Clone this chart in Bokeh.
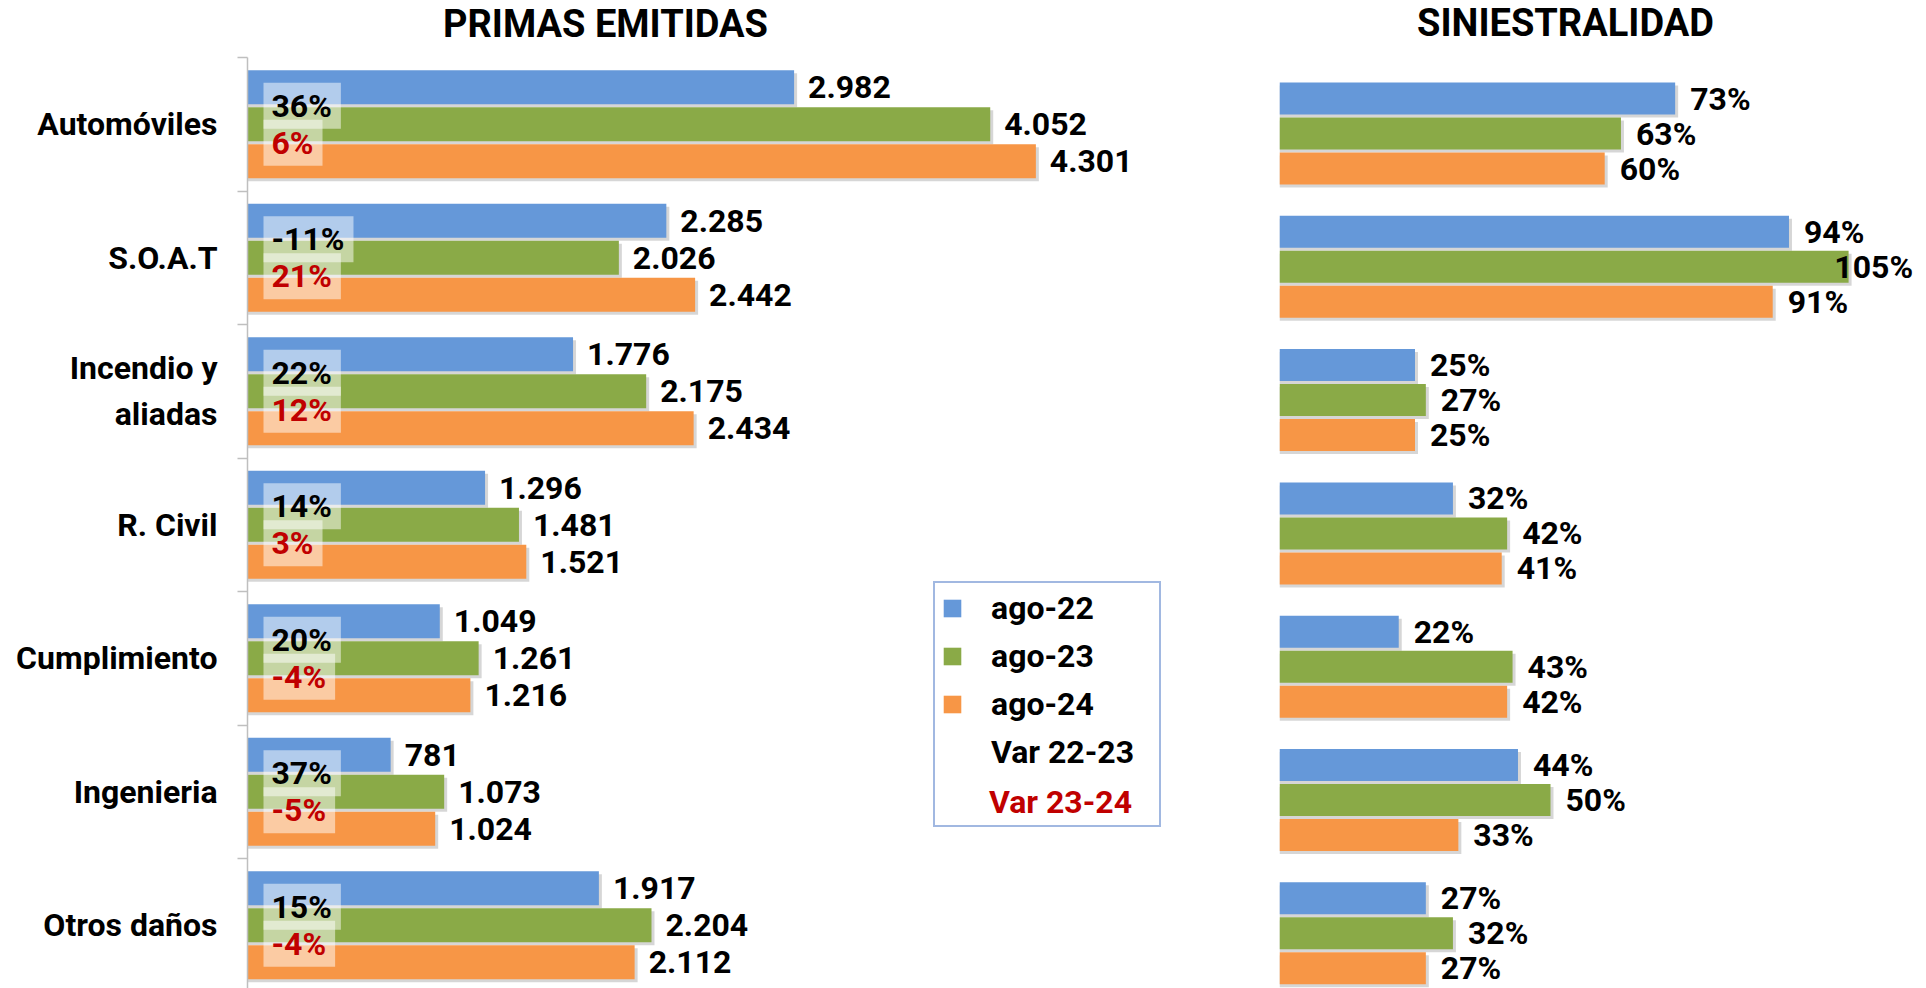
import numpy as np
from bokeh.plotting import figure
from bokeh.models import Range1d, FixedTicker, Legend, LegendItem
from bokeh.layouts import row
from bokeh.core.properties import value
from bokeh.embed import file_html
from bokeh.resources import INLINE

# ---------------- data ----------------
categories = ["Automóviles", "S.O.A.T", "Incendio y\naliadas", "R. Civil",
              "Cumplimiento", "Ingenieria", "Otros daños"]
series_names = ["ago-22", "ago-23", "ago-24"]
primas_ago22 = [2982, 2285, 1776, 1296, 1049, 781, 1917]
primas_ago23 = [4052, 2026, 2175, 1481, 1261, 1073, 2204]
primas_ago24 = [4301, 2442, 2434, 1521, 1216, 1024, 2112]
var_22_23 = ["36%", "-11%", "22%", "14%", "20%", "37%", "15%"]
var_23_24 = ["6%", "21%", "12%", "3%", "-4%", "-5%", "-4%"]
sin_ago22 = [73, 94, 25, 32, 22, 44, 27]
sin_ago23 = [63, 105, 27, 42, 43, 50, 32]
sin_ago24 = [60, 91, 25, 41, 42, 33, 27]
title_left = "PRIMAS EMITIDAS"
title_right = "SINIESTRALIDAD"
legend_var1 = "Var 22-23"
legend_var2 = "Var 23-24"

# ---------------- style ----------------
FONT = "Roboto"
BLUE, GREEN, ORANGE = "#6598D9", "#8AAA47", "#F79646"
RED = "#C00000"
AXIS_GRAY = "#BFBFBF"
COLORS = [BLUE, GREEN, ORANGE]
TXT = dict(text_font=value(FONT), text_font_style="bold", text_font_size="32px")

FIG_H = 988
PLOT_TOP_PAGE = 57            # where the category band starts
n = len(categories)
yc = np.arange(n)


def fmt_num(v):
    return f"{v:,}".replace(",", ".")


# ---------------- left chart ----------------
L_W, L_BORDER = 1260, 247
L_FRAME_W = L_W - L_BORDER
L_PX_X = 0.1833               # px per unit of primas
L_PX_Y = 133.5                # px per category
L_SLOT = 37 / L_PX_Y
L_BAR = 34 / L_PX_Y
l_top = -0.5 - PLOT_TOP_PAGE / L_PX_Y
l_bottom = l_top + FIG_H / L_PX_Y
l_xend = L_FRAME_W / L_PX_X

p1 = figure(width=L_W, height=FIG_H, x_range=Range1d(0, l_xend),
            y_range=Range1d(l_bottom, l_top), x_axis_location=None,
            y_axis_location="left", toolbar_location=None, output_backend="svg",
            min_border_left=L_BORDER, min_border_right=0, min_border_top=0,
            min_border_bottom=0, outline_line_color=None)
p1.xgrid.visible = False
p1.ygrid.visible = False

ax = p1.yaxis[0]
ax.bounds = (-0.5, n + 0.5)
ax.ticker = FixedTicker(ticks=[float(v) for v in yc],
                        minor_ticks=[float(v) - 0.5 for v in range(n + 1)])
ax.major_label_overrides = {float(i): c for i, c in enumerate(categories)}
ax.major_tick_line_color = None
ax.major_tick_out = 0
ax.major_tick_in = 0
ax.minor_tick_line_color = AXIS_GRAY
ax.minor_tick_line_width = 1.5
ax.minor_tick_out = 10
ax.minor_tick_in = 0
ax.axis_line_color = AXIS_GRAY
ax.axis_line_width = 1.5
ax.major_label_standoff = 20
ax.major_label_text_font = FONT
ax.major_label_text_font_style = "bold"
ax.major_label_text_font_size = "32px"
ax.major_label_text_color = "black"

SH_PX = 3
primas = [primas_ago22, primas_ago23, primas_ago24]
for k, vals in enumerate(primas):
    yy = yc + (k - 1) * L_SLOT
    p1.hbar(y=yy + SH_PX / L_PX_Y, left=0, right=np.array(vals) + SH_PX / L_PX_X,
            height=L_BAR, fill_color="black", fill_alpha=0.16, line_color=None)

bar_r = []
for k, vals in enumerate(primas):
    yy = yc + (k - 1) * L_SLOT
    r = p1.hbar(y=yy, left=0, right=vals, height=L_BAR, fill_color=COLORS[k],
                line_color=None)
    bar_r.append(r)
    p1.text(x=vals, y=yy, text=[fmt_num(v) for v in vals], x_offset=14,
            text_baseline="middle", text_align="left", text_color="black", **TXT)

PAD = dict(left=8, right=9, top=4, bottom=4)
p1.text(x=np.zeros(n), y=yc - L_SLOT / 2, text=var_22_23, x_offset=16,
        text_baseline="middle", text_align="left", text_color="black",
        background_fill_color="white", background_fill_alpha=0.5, padding=PAD, **TXT)
p1.text(x=np.zeros(n), y=yc + L_SLOT / 2, text=var_23_24, x_offset=16,
        text_baseline="middle", text_align="left", text_color=RED,
        background_fill_color="white", background_fill_alpha=0.5, padding=PAD, **TXT)

# chart title (inside the frame, above the category band)
p1.text(x=[(605 - L_BORDER) / L_PX_X], y=[l_top + 23.5 / L_PX_Y], text=[title_left],
        text_align="center", text_baseline="middle", text_color="black",
        text_font=value(FONT), text_font_style="bold", text_font_size="38px")

dummy = p1.hbar(y=[], right=[], height=0.1, fill_alpha=0, line_alpha=0)

LEG_PAD = 6
LEG_KW = dict(glyph_width=22, glyph_height=22, label_standoff=28, label_height=38,
              label_width=162, spacing=10, margin=0,
              label_text_font=FONT, label_text_font_style="bold",
              label_text_font_size="32px")
LEG_X, LEG_Y = 686, 161
legA = Legend(items=[LegendItem(label=series_names[0], renderers=[bar_r[0]]),
                     LegendItem(label=series_names[1], renderers=[bar_r[1]]),
                     LegendItem(label=series_names[2], renderers=[bar_r[2]]),
                     LegendItem(label=legend_var1, renderers=[dummy]),
                     LegendItem(label=legend_var2, renderers=[dummy])],
              location=(LEG_X, LEG_Y), padding=LEG_PAD, label_text_color="black",
              border_line_color="#4472C4", border_line_width=2,
              background_fill_color="white", background_fill_alpha=1, **LEG_KW)
legB = Legend(items=[LegendItem(label=legend_var2, renderers=[dummy])],
              location=(LEG_X + LEG_PAD, LEG_Y + LEG_PAD), padding=0,
              label_text_color=RED, border_line_color=None,
              background_fill_color="white", background_fill_alpha=1, **LEG_KW)
p1.add_layout(legA)
p1.add_layout(legB)

# ---------------- right chart ----------------
R_W, R_BORDER = 664, 19
R_FRAME_W = R_W - R_BORDER
R_PX_X = 5.42
R_PX_Y = 133.3
R_SLOT = 35 / R_PX_Y
R_BAR = 32 / R_PX_Y
R_CENTER0_PAGE = 133
r_top = -R_CENTER0_PAGE / R_PX_Y
r_bottom = r_top + FIG_H / R_PX_Y
r_xend = R_FRAME_W / R_PX_X
R_FRAME_LEFT_PAGE = L_W + R_BORDER
R_LABEL_MAX = 99.6

p2 = figure(width=R_W, height=FIG_H, x_range=Range1d(0, r_xend),
            y_range=Range1d(r_bottom, r_top), x_axis_location=None,
            y_axis_location=None, toolbar_location=None, output_backend="svg",
            min_border_left=R_BORDER, min_border_right=0, min_border_top=0,
            min_border_bottom=0, outline_line_color=None)
p2.xgrid.visible = False
p2.ygrid.visible = False

sins = [sin_ago22, sin_ago23, sin_ago24]
for k, vals in enumerate(sins):
    yy = yc + (k - 1) * R_SLOT
    p2.hbar(y=yy + SH_PX / R_PX_Y, left=0, right=np.array(vals) + SH_PX / R_PX_X,
            height=R_BAR, fill_color="black", fill_alpha=0.16, line_color=None)
for k, vals in enumerate(sins):
    yy = yc + (k - 1) * R_SLOT
    p2.hbar(y=yy, left=0, right=vals, height=R_BAR, fill_color=COLORS[k],
            line_color=None)
    p2.text(x=np.minimum(np.array(vals), R_LABEL_MAX), y=yy,
            text=[f"{v}%" for v in vals], x_offset=15,
            text_baseline="middle", text_align="left", text_color="black", **TXT)

p2.text(x=[(1565 - R_FRAME_LEFT_PAGE) / R_PX_X], y=[r_top + 22.5 / R_PX_Y],
        text=[title_right], text_align="center", text_baseline="middle",
        text_color="black", text_font=value(FONT), text_font_style="bold",
        text_font_size="38px")

layout = row(p1, p2)
open("out.html", "w").write(file_html(layout, INLINE))
